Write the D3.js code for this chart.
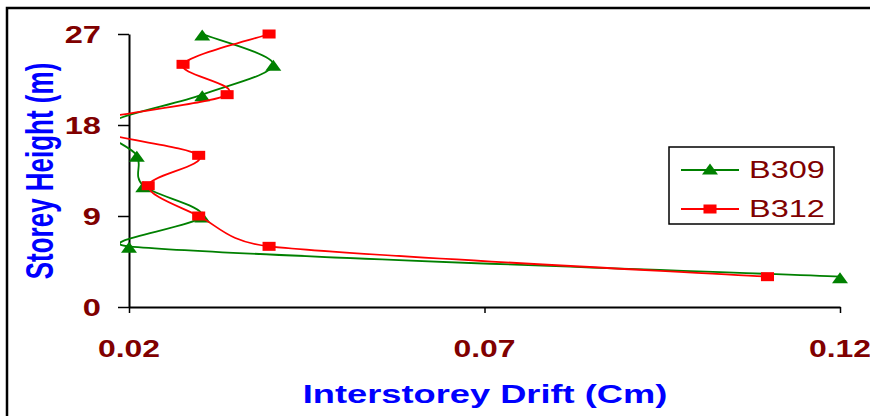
<!DOCTYPE html>
<html>
<head>
<meta charset="utf-8">
<script src="https://cdn.jsdelivr.net/npm/d3@7"></script>
<style>
  body { margin: 0; background: #fff; }
  text { font-family: "Liberation Sans", Arial, sans-serif; }
</style>
</head>
<body>
<svg id="chart" width="870" height="416"></svg>
<script>
// storey heights (m) and drift values
const heights = [3, 6, 9, 12, 15, 18, 21, 24, 27];
const b309 = [0.12, 0.02, 0.0303, 0.022, 0.0211, 0.0168, 0.0303, 0.0403, 0.0303];
const b312 = [0.1098, 0.0397, 0.0298, 0.0227, 0.0298, 0.0138, 0.0338, 0.0276, 0.0397];
const seriesNames = ["B309", "B312"];
const seriesColors = ["#008000", "#ff0000"];
const xTicks = [0.02, 0.07, 0.12];
const yTicks = [0, 9, 18, 27];

(function(){
    const svg = d3.select("#chart");
    const sx = 1.45; // the original picture is stretched sideways

    svg.append("rect")
        .attr("width", 870).attr("height", 416).attr("fill", "#fff");

    // outer frame, runs off right and bottom
    svg.append("rect")
        .attr("x", 7).attr("y", 8)
        .attr("width", 900).attr("height", 450)
        .attr("fill", "none").attr("stroke", "#000").attr("stroke-width", 2.5);

    let x = d3.scaleLinear().domain([0.02, 0.12]).range([129, 840]);
    let y = d3.scaleLinear().domain([0, 27]).range([307, 34]);

    svg.append("defs").append("clipPath").attr("id", "plot-clip")
        .append("rect").attr("x", 120).attr("y", 0).attr("width", 750).attr("height", 310);

    // excel style smoothing: control offset limited to half the segment
    function smooth(pts) {
        let p = pts.map(d => [d[0] / sx, d[1]]);
        let dist = (a, b) => Math.hypot(a[0] - b[0], a[1] - b[1]);
        let out = "M" + pts[0][0] + "," + pts[0][1];
        for (let i = 0; i < p.length - 1; i++) {
            let p0 = p[i - 1] || p[i], p1 = p[i], p2 = p[i + 1], p3 = p[i + 2] || p[i + 1];
            let d12 = dist(p1, p2), d02 = dist(p0, p2), d13 = dist(p1, p3);
            let f1 = d02 > 0 ? Math.min(1 / 6, d12 / (2 * d02)) : 0;
            let f2 = d13 > 0 ? Math.min(1 / 6, d12 / (2 * d13)) : 0;
            let c1 = [p1[0] + f1 * (p2[0] - p0[0]), p1[1] + f1 * (p2[1] - p0[1])];
            let c2 = [p2[0] - f2 * (p3[0] - p1[0]), p2[1] - f2 * (p3[1] - p1[1])];
            out += "C" + (c1[0] * sx) + "," + c1[1] + " " + (c2[0] * sx) + "," + c2[1] +
                " " + (p2[0] * sx) + "," + p2[1];
        }
        return out;
    }

    function marker(g, kind, color) {
        if (kind === 0) {
            g.append("path")
                .attr("d", "M0,-4.5L" + (5.5 * sx) + ",6.5L" + (-5.5 * sx) + ",6.5Z")
                .attr("fill", color);
        } else {
            g.append("rect")
                .attr("x", -4.5 * sx).attr("y", -4.5)
                .attr("width", 9 * sx).attr("height", 9)
                .attr("fill", color);
        }
    }

    // axes
    svg.append("g")
        .attr("transform", "translate(129,0)")
        .call(d3.axisLeft(y).tickValues(yTicks).tickSize(11).tickSizeOuter(0).tickFormat(""));
    svg.append("g")
        .attr("transform", "translate(0,307)")
        .call(d3.axisBottom(x).tickValues(xTicks).tickSize(6).tickSizeOuter(0).tickFormat(""));
    svg.selectAll(".domain").attr("stroke", "#000").attr("stroke-width", 2);
    svg.selectAll(".tick line").attr("stroke", "#000").attr("stroke-width", 1.5);

    yTicks.forEach(v => {
        svg.append("text")
            .attr("transform", "translate(101," + (y(v) + 8.5) + ") scale(1.36,1)")
            .attr("text-anchor", "end")
            .attr("font-size", 24).attr("font-weight", "bold").attr("fill", "#800000")
            .text(v);
    });
    xTicks.forEach(v => {
        svg.append("text")
            .attr("transform", "translate(" + x(v) + ",357) scale(1.33,1)")
            .attr("text-anchor", "middle")
            .attr("font-size", 24).attr("font-weight", "bold").attr("fill", "#800000")
            .text(d3.format(".2f")(v));
    });

    svg.append("text")
        .attr("transform", "translate(485,403) scale(1.45,1)")
        .attr("text-anchor", "middle")
        .attr("font-size", 25).attr("font-weight", "bold").attr("fill", "#0000ff")
        .text("Interstorey Drift (Cm)");
    svg.append("text")
        .attr("transform", "translate(53,171) rotate(-90) scale(1,1.5)")
        .attr("text-anchor", "middle")
        .attr("font-size", 26).attr("font-weight", "bold").attr("fill", "#0000ff")
        .text("Storey Height (m)");

    // series
    let plot = svg.append("g").attr("clip-path", "url(#plot-clip)");
    [b309, b312].forEach((vals, si) => {
        let pts = vals.map((v, i) => [x(v), y(heights[i])]);
        let g = plot.append("g");
        g.append("path")
            .attr("d", smooth(pts))
            .attr("fill", "none")
            .attr("stroke", seriesColors[si])
            .attr("stroke-width", 1.8);
        pts.forEach(p => {
            let m = g.append("g").attr("transform", "translate(" + p[0] + "," + p[1] + ")");
            marker(m, si, seriesColors[si]);
        });
    });

    // legend
    let legend = svg.append("g");
    legend.append("rect")
        .attr("x", 669).attr("y", 147).attr("width", 165).attr("height", 77)
        .attr("fill", "#fff").attr("stroke", "#000").attr("stroke-width", 1.5);
    seriesNames.forEach((name, i) => {
        let ly = 170 + i * 39;
        legend.append("line")
            .attr("x1", 681).attr("x2", 739).attr("y1", ly).attr("y2", ly)
            .attr("stroke", seriesColors[i]).attr("stroke-width", 1.8);
        let m = legend.append("g").attr("transform", "translate(710," + (ly - (i === 0 ? 2 : 0)) + ")");
        marker(m, i, seriesColors[i]);
        legend.append("text")
            .attr("transform", "translate(749," + (ly + 7.5) + ") scale(1.41,1)")
            .attr("font-size", 23).attr("fill", "#800000")
            .text(name);
    });
})();
</script>
</body>
</html>
